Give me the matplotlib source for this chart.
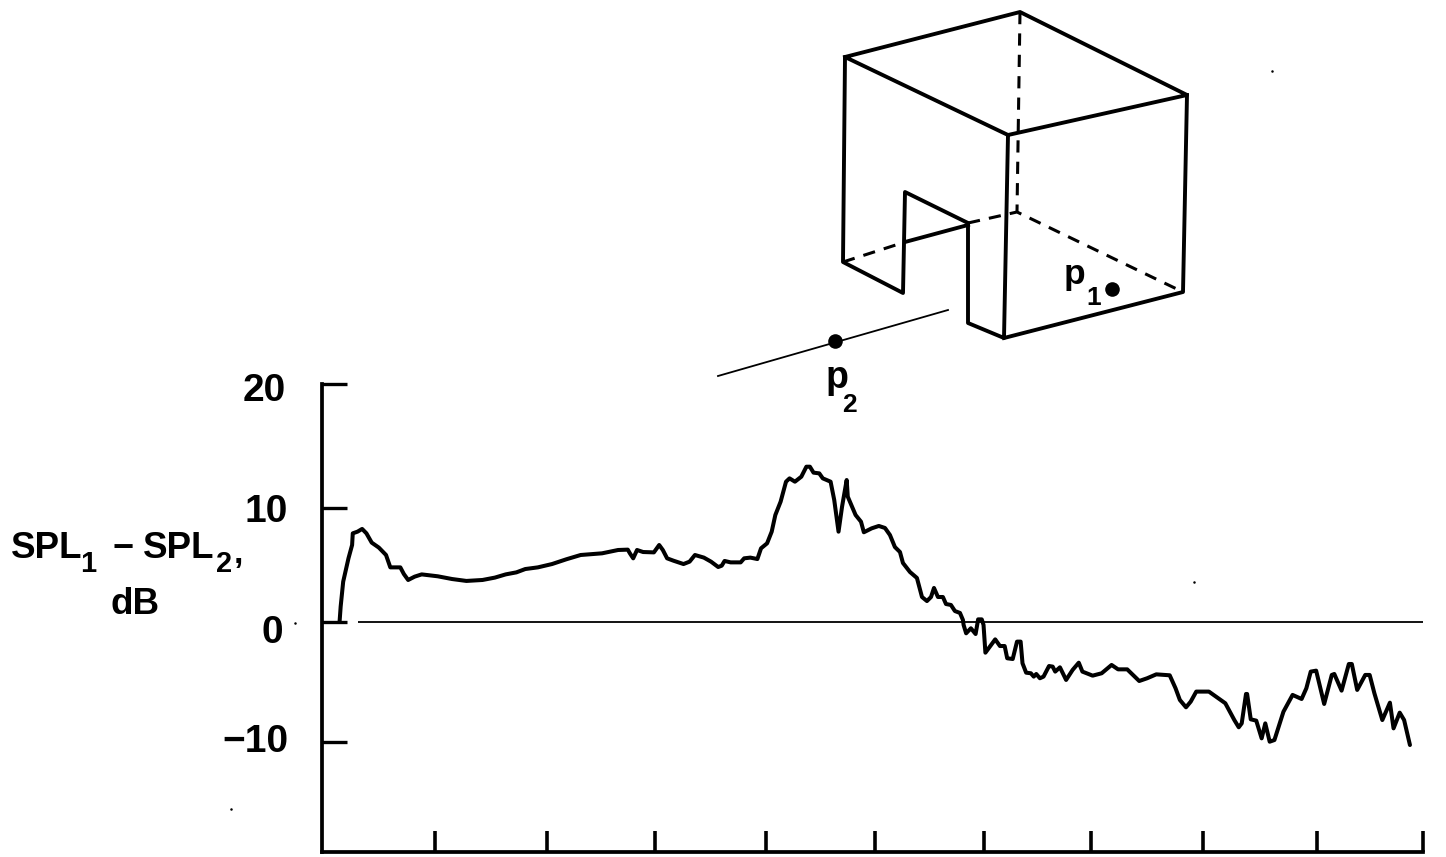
import matplotlib
matplotlib.use("Agg")
import matplotlib.pyplot as plt
from matplotlib.transforms import ScaledTranslation

plt.rcParams['font.family'] = ['Liberation Sans', 'DejaVu Sans']
plt.rcParams['font.weight'] = 'bold'

# difference curve, x in tick divisions (axis carries no labels), y in dB
x_pos = [0.178, 0.188, 0.211, 0.259, 0.292, 0.298, 0.341, 0.383, 0.422, 0.470, 0.535, 0.600, 0.639,
         0.730, 0.762, 0.801, 0.860, 0.924, 1.070, 1.200, 1.330, 1.476, 1.589, 1.687, 1.784, 1.865,
         1.979, 2.108, 2.238, 2.368, 2.562, 2.708, 2.796, 2.815, 2.845, 2.880, 2.935, 3.033, 3.081,
         3.114, 3.153, 3.211, 3.302, 3.357, 3.406, 3.487, 3.552, 3.617, 3.649, 3.675, 3.730, 3.821,
         3.853, 3.909, 3.973, 4.006, 4.061, 4.103, 4.136, 4.184, 4.233, 4.265, 4.314, 4.372, 4.418,
         4.450, 4.483, 4.535, 4.567, 4.638, 4.671, 4.710, 4.742, 4.784, 4.794, 4.833, 4.865, 4.914,
         4.940, 5.011, 5.076, 5.132, 5.177, 5.222, 5.268, 5.295, 5.359, 5.422, 5.468, 5.513, 5.550,
         5.577, 5.613, 5.658, 5.686, 5.731, 5.767, 5.813, 5.840, 5.846, 5.869, 5.912, 5.955, 5.978,
         6.011, 6.027, 6.044, 6.133, 6.176, 6.219, 6.242, 6.292, 6.331, 6.364, 6.381, 6.414, 6.457,
         6.483, 6.506, 6.539, 6.572, 6.622, 6.655, 6.678, 6.721, 6.777, 6.836, 6.892, 6.925, 7.018,
         7.100, 7.190, 7.249, 7.332, 7.441, 7.513, 7.596, 7.718, 7.771, 7.810, 7.866, 7.909, 7.959,
         8.074, 8.223, 8.305, 8.345, 8.372, 8.411, 8.421, 8.454, 8.504, 8.553, 8.586, 8.626, 8.669,
         8.751, 8.834, 8.916, 8.959, 8.999, 9.048, 9.121, 9.190, 9.213, 9.279, 9.345, 9.372, 9.421,
         9.494, 9.534, 9.577, 9.649, 9.718, 9.751, 9.807, 9.847, 9.900]
spl_diff = [0.0, 1.29, 3.39, 5.35, 6.47, 7.45, 7.59, 7.82, 7.45, 6.67, 6.25, 5.63, 4.59,
            4.59, 4.03, 3.53, 3.81, 4.0, 3.84, 3.61, 3.45, 3.53, 3.73, 4.0, 4.17, 4.45,
            4.59, 4.87, 5.27, 5.63, 5.77, 6.05, 6.08, 5.77, 5.35, 6.05, 5.88, 5.85, 6.47,
            6.05, 5.35, 5.15, 4.87, 5.07, 5.63, 5.41, 5.07, 4.62, 4.73, 5.13, 5.01, 5.01,
            5.35, 5.41, 5.29, 6.19, 6.61, 7.59, 8.99, 10.11, 11.79, 12.07, 11.79, 12.21, 13.05,
            13.05, 12.55, 12.49, 12.07, 11.79, 10.25, 7.59, 9.69, 11.93, 10.53, 9.69, 8.99, 8.43,
            7.54, 7.87, 8.07, 7.90, 7.31, 6.30, 5.88, 4.96, 4.20, 3.70, 2.10, 1.76, 2.10,
            2.86, 2.10, 2.10, 1.51, 1.43, 0.92, 0.76, 0.17, -0.25, -0.95, -0.53, -1.01, 0.22,
            0.22, -0.25, -2.58, -1.46, -2.02, -2.02, -3.05, -3.11, -1.65, -1.65, -3.47, -4.26, -4.31,
            -4.59, -4.37, -4.73, -4.59, -3.70, -3.75, -4.17, -3.81, -4.87, -4.03, -3.42, -4.17, -4.51,
            -4.31, -3.61, -3.98, -3.98, -4.96, -4.73, -4.40, -4.48, -5.57, -6.55, -7.17, -6.69, -5.85,
            -5.85, -6.83, -8.24, -8.85, -8.52, -6.05, -6.05, -8.18, -8.29, -9.78, -8.52, -10.06, -9.92,
            -7.54, -6.13, -6.47, -5.57, -4.17, -4.09, -6.89, -4.45, -4.37, -5.77, -3.53, -3.53, -5.71,
            -4.45, -4.45, -5.99, -8.24, -6.78, -8.94, -7.62, -8.24, -10.34]

# ticks as measured on the scan, which is slightly uneven
y_ticks = [20, 9.6, 0, -10.08]
y_labels = ['20', '10', '0', '\u221210']
label_shift_px = [(2, -3), (4, 0), (-1, -7), (4, 4)]
x_ticks = [1.045, 2.062, 3.047, 4.051, 5.045, 6.031, 7.003, 8.016, 9.055, 10.014]

# box sketch above the plot, in figure pixels
box_solid = [
    [(845, 57), (1020, 12), (1187, 95), (1008, 135), (845, 57), (843, 262), (903, 293), (905, 192),
     (968, 223), (968, 323), (1004, 338), (1008, 135)],
    [(1187, 95), (1183, 292), (1004, 338)],
    [(905, 242), (968, 225)],
]
box_dashed = [
    [(1020, 12), (1017, 212)],
    [(843, 262), (905, 242)],
    [(968, 223), (1017, 212), (1183, 292)],
]
p2_line = [(718, 376), (948, 310)]
p1_dot = (1112, 289)
p2_dot = (835, 341)
specks = [(1194, 582), (1272, 71), (231, 809), (295, 623)]

fig = plt.figure(figsize=(14.46, 8.57), dpi=100)
W, H = 1446, 857
ax = fig.add_axes([321.5 / W, (H - 852) / H, 1101 / W, 468 / H])
ax.set_xlim(0.014, 10.014)
ax.set_ylim(-19.33, 20)

ax.plot(x_pos, spl_diff, color='black', lw=2.9, solid_joinstyle='round', solid_capstyle='round')
ax.hlines(0, 0.345, 10.014, color='black', lw=1.3)

for side in ['top', 'right']:
    ax.spines[side].set_visible(False)
for side in ['left', 'bottom']:
    ax.spines[side].set_linewidth(2.7)
ax.set_xticks(x_ticks, [''] * len(x_ticks))
ax.set_yticks(y_ticks, y_labels)
ax.tick_params(axis='x', direction='in', length=15, width=2.6)
ax.tick_params(axis='y', direction='in', length=18, width=2.4, pad=27, labelsize=28)
for lab, (dx, dy) in zip(ax.get_yticklabels(), label_shift_px):
    lab.set_transform(lab.get_transform() + ScaledTranslation(dx / 100, dy / 100, fig.dpi_scale_trans))

# sketch and free text go on an overlay in pixel coordinates
ov = fig.add_axes([0, 0, 1, 1])
ov.set_xlim(0, W)
ov.set_ylim(H, 0)
ov.axis('off')
ov.patch.set_alpha(0)

for path in box_solid:
    ov.plot([p[0] for p in path], [p[1] for p in path], color='black', lw=2.8, solid_joinstyle='round')
for path in box_dashed:
    ov.plot([p[0] for p in path], [p[1] for p in path], color='black', lw=2.2, linestyle=(0, (4, 3)))
ov.plot([p[0] for p in p2_line], [p[1] for p in p2_line], color='black', lw=1.3)
ov.plot(*p1_dot, 'o', color='black', ms=10.5, mew=0)
ov.plot(*p2_dot, 'o', color='black', ms=10.5, mew=0)
ov.plot([s[0] for s in specks], [s[1] for s in specks], 'o', color='black', ms=1.8, mew=0)

ov.text(1064, 284, 'p', fontsize=25.5, ha='left', va='baseline')
ov.text(1086, 305, '1', fontsize=19, ha='left', va='baseline')
ov.text(826, 388, 'p', fontsize=27, ha='left', va='baseline')
ov.text(842, 412, '2', fontsize=19, ha='left', va='baseline')

ov.text(11, 558, 'SPL', fontsize=26.5, ha='left', va='baseline')
ov.text(80, 572, '1', fontsize=21, ha='left', va='baseline')
ov.text(112, 558, '\u2212', fontsize=26, ha='left', va='baseline')
ov.text(143, 558, 'SPL', fontsize=26.5, ha='left', va='baseline')
ov.text(216, 572, '2', fontsize=21, ha='left', va='baseline')
ov.text(234, 563, ',', fontsize=24, ha='left', va='baseline')
ov.text(111, 614, 'dB', fontsize=26.5, ha='left', va='baseline')

fig.savefig('out.png', dpi=100)
plt.close(fig)
